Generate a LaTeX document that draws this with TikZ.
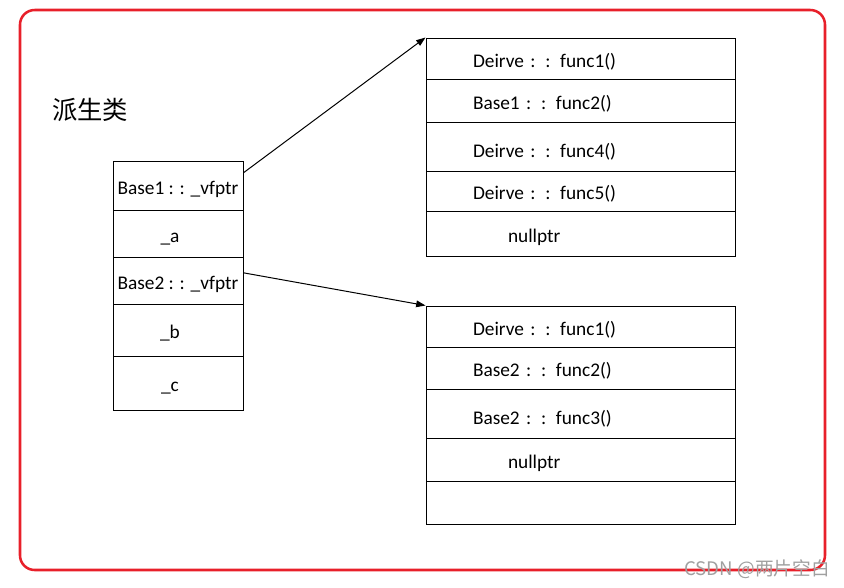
\documentclass[tikz,border=0pt]{standalone}
\usepackage{fontspec}
\setmainfont{Carlito}
\newfontfamily\cjk{Noto Sans CJK SC}
\usetikzlibrary{arrows.meta,calc}
\definecolor{framered}{RGB}{232,32,42}
\definecolor{markgray}{RGB}{160,160,160}
\tikzset{
	cell/.style={draw, line width=0.75pt, minimum width=97.5pt, inner sep=0pt, text height=15pt, text depth=2pt,
		font=\fontsize{14.5pt}{16pt}\selectfont},
	vrow/.style={draw, line width=0.75pt, minimum width=231.75pt, inner xsep=35.25pt, inner ysep=0pt,
		text height=15pt, text depth=2pt, text width=161.25pt, align=left, font=\fontsize{14.5pt}{16pt}\selectfont},
	ptr/.style={line width=0.75pt, -{Triangle[length=7pt,width=5pt]}}
}
\begin{document}
\begin{tikzpicture}[x=0.75pt,y=-0.75pt]
	\useasboundingbox (0,0) rectangle (844,587);
	\draw[framered, line width=1.9pt, rounded corners=11pt] (20,10) rectangle (825,570);
	\node[font=\cjk\fontsize{19pt}{21pt}\selectfont, anchor=west, inner sep=0pt] (title) at (52,110) {派生类};
	% derived object
	\node[cell, minimum height=36.75pt] (b1vf) at (178,185.5) {Base1 : : \_vfptr};
	\node[cell, minimum height=35.25pt] (ma) at (178,233.5) {\_a\hspace*{12pt}};
	\node[cell, minimum height=35.25pt] (b2vf) at (178,280.5) {Base2 : : \_vfptr};
	\node[cell, minimum height=39pt] (mb) at (178,330) {\_b\hspace*{12pt}};
	\node[cell, minimum height=40.5pt] (mc) at (178,383) {\_c\hspace*{12pt}};
	% table of Base1
	\node[vrow, minimum height=30.75pt] (ta) at (580.5,58.5) {Deirve : : func1()};
	\node[vrow, minimum height=32.25pt] (tb) at (580.5,100.5) {Base1 : : func2()};
	\node[vrow, minimum height=36.75pt, text height=18pt] (tc) at (580.5,146.5) {Deirve : : func4()};
	\node[vrow, minimum height=30pt] (td) at (580.5,191) {Deirve : : func5()};
	\node[vrow, minimum height=33.75pt] (te) at (580.5,233.5) {\hspace*{26.25pt}nullptr};
	% table of Base2
	\node[vrow, minimum height=30.75pt] (ua) at (580.5,326.5) {Deirve : : func1()};
	\node[vrow, minimum height=31.5pt] (ub) at (580.5,368) {Base2 : : func2()};
	\node[vrow, minimum height=36.75pt, text height=18pt] (uc) at (580.5,413.5) {Base2 : : func3()};
	\node[vrow, minimum height=32.25pt] (ud) at (580.5,459.5) {\hspace*{26.25pt}nullptr};
	\node[vrow, minimum height=32.25pt] (ue) at (580.5,502.5) {};
	\draw[ptr] ($(b1vf.north east)!0.245!(b1vf.south east)$) -- (ta.north west);
	\draw[ptr] ($(b2vf.north east)!0.34!(b2vf.south east)$) -- (ua.north west);
	\node[markgray, font=\cjk\fontsize{14pt}{16pt}\selectfont, anchor=east, inner sep=0pt] (wm) at (830,569) {CSDN @两片空白};
\end{tikzpicture}
\end{document}
